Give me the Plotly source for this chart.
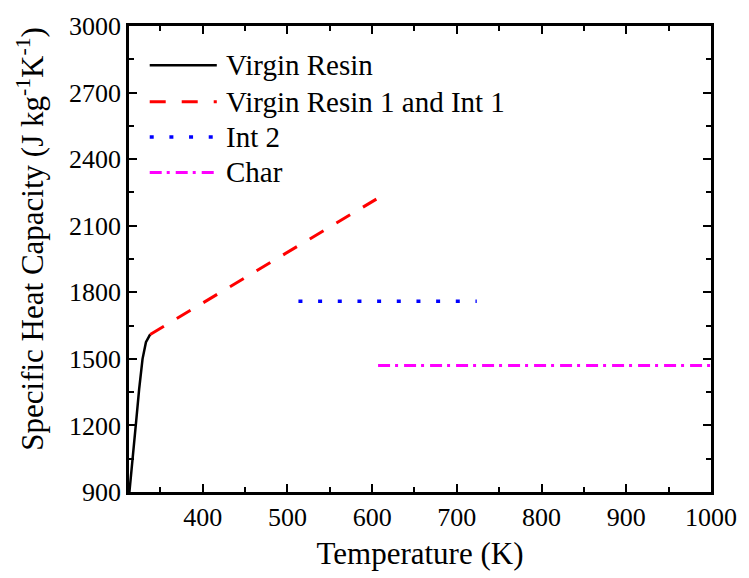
import plotly.graph_objects as go

# Data
vr_T = [313.5, 315, 317.5, 321.5, 325, 329, 333, 338]
vr_cp = [900, 955, 1060, 1220, 1365, 1500, 1575, 1610]
vr1_T = [338, 605]
vr1_cp = [1610, 2220]
int2_T = [513, 723.5]
int2_cp = [1760, 1760]
char_T = [607, 1000]
char_cp = [1470, 1470]

names = ["Virgin Resin", "Virgin Resin 1 and Int 1", "Int 2", "Char"]
colors = ["black", "#ff0000", "#0000ff", "#ff00ff"]
dashes = ["solid", "16px,15px", "4px,15.67px", "12px,5px,3px,6px"]
widths = [2.5, 3, 3.5, 3]

FONT = "Liberation Serif"

fig = go.Figure()
series = [(vr_T, vr_cp), (vr1_T, vr1_cp), (int2_T, int2_cp), (char_T, char_cp)]
for (x, y), n, c, d, w in zip(series, names, colors, dashes, widths):
    fig.add_trace(go.Scatter(x=x, y=y, mode="lines", name=n, showlegend=False,
                             line=dict(color=c, dash=d, width=w)))

# Manual legend (long line samples as in the reference)
W, H = 749, 578
L, R, T, B = 129, 30, 18, 86
pw, ph = W - L - R, H - T - B
def px_x(p):
    return (p - L) / pw
def px_y(p):
    return 1 - (p - T) / ph
rows = [58, 95, 131, 167]
leg_dash = ["solid", "16px,16px", "4px,15.67px", "12px,5px,3px,6px"]
for n, c, d, w, ry in zip(names, colors, leg_dash, widths, rows):
    fig.add_shape(type="line", xref="paper", yref="paper",
                  x0=px_x(150), x1=px_x(218), y0=px_y(ry), y1=px_y(ry),
                  line=dict(color=c, dash=d, width=w))
    fig.add_annotation(xref="paper", yref="paper", x=px_x(225), y=px_y(ry),
                       text=n, showarrow=False, xanchor="left", yanchor="middle",
                       font=dict(family=FONT, size=29, color="black"))

# Y-axis title placed like the reference (slightly above plot centre)
fig.add_annotation(xref="paper", yref="paper", x=px_x(29), y=px_y(234),
                   text="Specific Heat Capacity (J kg<sup>-1</sup>K<sup>-1</sup>)",
                   textangle=-90, showarrow=False, xanchor="center", yanchor="middle",
                   font=dict(family=FONT, size=31, color="black"))

axis_common = dict(showline=True, linecolor="black", linewidth=2.5, mirror="allticks",
                   ticks="inside", ticklen=8, tickwidth=2, tickcolor="black",
                   showgrid=False, zeroline=False,
                   tickfont=dict(family=FONT, size=26, color="black"))

fig.update_xaxes(range=[313, 1000], tickmode="array", tickvals=[400, 500, 600, 700, 800, 900, 1000],
                 minor=dict(ticks="inside", ticklen=5, tickwidth=2, tickcolor="black", dtick=50, tick0=0),
                 title=dict(text="Temperature (K)", font=dict(family=FONT, size=31, color="black"), standoff=12),
                 **axis_common)
fig.update_yaxes(range=[900, 3000], tickmode="array",
                 tickvals=[900, 1200, 1500, 1800, 2100, 2400, 2700, 3000],
                 minor=dict(ticks="inside", ticklen=5, tickwidth=2, tickcolor="black", dtick=150, tick0=0),
                 **axis_common)

fig.update_layout(width=W, height=H, margin=dict(l=L, r=R, t=T, b=B),
                  plot_bgcolor="white", paper_bgcolor="white", showlegend=False)

fig.write_html("out.html")
